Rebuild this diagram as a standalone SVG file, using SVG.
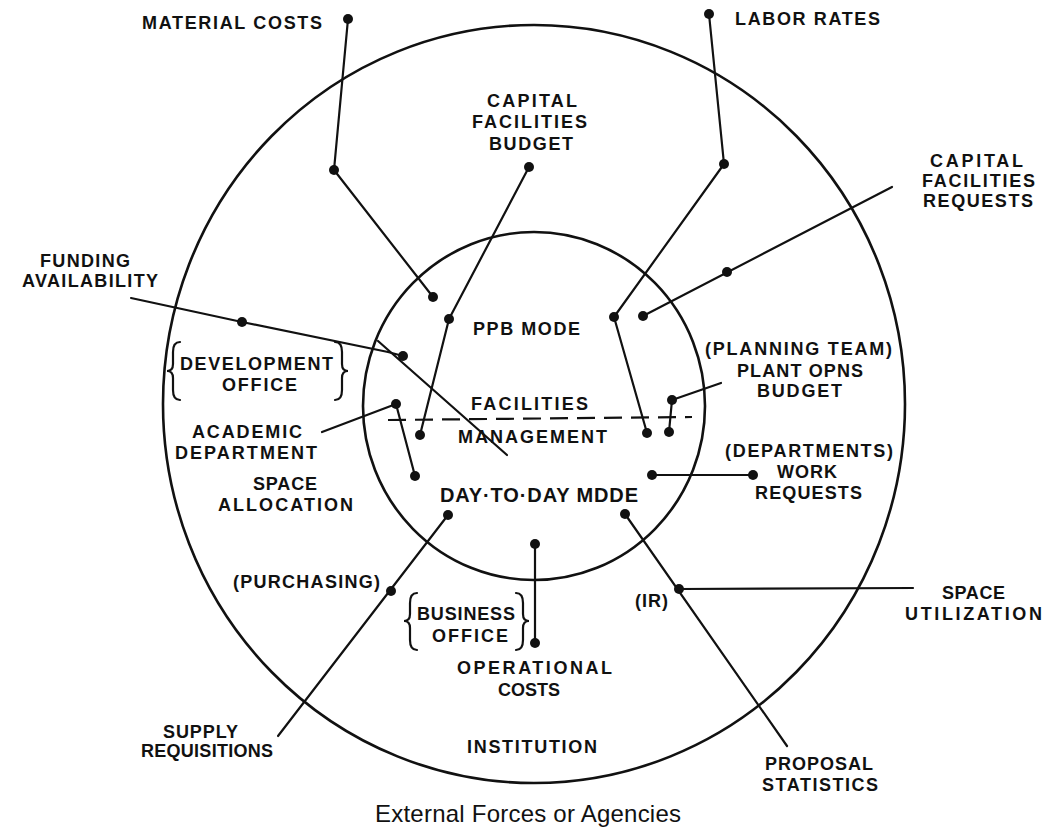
<svg xmlns="http://www.w3.org/2000/svg" width="1045" height="828" viewBox="0 0 1045 828">
<style>
.ring{fill:none;stroke:#111;stroke-width:2.6}
.ln{fill:none;stroke:#111;stroke-width:2.2;stroke-linejoin:round;stroke-linecap:round}
.dash{fill:none;stroke:#111;stroke-width:2.2;stroke-dasharray:18 9}
.br{fill:none;stroke:#111;stroke-width:2.2;stroke-linecap:round}
.dot{fill:#111}
.t{font-family:"Liberation Sans",Arial,Helvetica,sans-serif;font-weight:bold;font-size:18px;fill:#111}
.big{font-size:20px}
.ext{font-family:"Liberation Sans",Arial,Helvetica,sans-serif;font-weight:normal;font-size:24px;fill:#111}
</style>
<rect width="1045" height="828" fill="#fff"/>
<g id="rings">
<ellipse id="institution-ring" class="ring" cx="534" cy="404" rx="371" ry="379"/>
<ellipse id="facilities-ring" class="ring" cx="534" cy="406" rx="171" ry="174"/>
<line class="dash" x1="388" y1="420" x2="692" y2="417"/>
</g>
<g id="connectors">
<polyline class="ln" points="348,19 334,170 433,297"/>
<polyline class="ln" points="529,167 449,319 420,435"/>
<polyline class="ln" points="709,14 724,164 614,317 647,433"/>
<line class="ln" x1="892" y1="187" x2="643" y2="316"/>
<polyline class="ln" points="131,298 242,322 388,352 403,356"/>
<line class="ln" x1="378" y1="341" x2="507" y2="455"/>
<polyline class="ln" points="322,432 396,404 415,476"/>
<polyline class="ln" points="721,383 672,400 669,432"/>
<line class="ln" x1="652" y1="475" x2="753" y2="475"/>
<line class="ln" x1="448" y1="515" x2="278" y2="736"/>
<line class="ln" x1="625" y1="514" x2="787" y2="746"/>
<line class="ln" x1="679" y1="589" x2="913" y2="588"/>
<line class="ln" x1="535" y1="544" x2="535" y2="643"/>
</g>
<g id="dots">
<circle class="dot" cx="348" cy="19" r="5"/>
<circle class="dot" cx="334" cy="170" r="5"/>
<circle class="dot" cx="433" cy="297" r="5"/>
<circle class="dot" cx="529" cy="167" r="5"/>
<circle class="dot" cx="449" cy="319" r="5"/>
<circle class="dot" cx="420" cy="435" r="5"/>
<circle class="dot" cx="709" cy="14" r="5"/>
<circle class="dot" cx="724" cy="164" r="5"/>
<circle class="dot" cx="614" cy="317" r="5"/>
<circle class="dot" cx="647" cy="433" r="5"/>
<circle class="dot" cx="727" cy="272" r="5"/>
<circle class="dot" cx="643" cy="316" r="5"/>
<circle class="dot" cx="242" cy="322" r="5"/>
<circle class="dot" cx="403" cy="356" r="5"/>
<circle class="dot" cx="396" cy="404" r="5"/>
<circle class="dot" cx="415" cy="476" r="5"/>
<circle class="dot" cx="672" cy="400" r="5"/>
<circle class="dot" cx="669" cy="432" r="5"/>
<circle class="dot" cx="652" cy="475" r="5"/>
<circle class="dot" cx="753" cy="475" r="5"/>
<circle class="dot" cx="448" cy="515" r="5"/>
<circle class="dot" cx="391" cy="591" r="5"/>
<circle class="dot" cx="625" cy="514" r="5"/>
<circle class="dot" cx="679" cy="589" r="5"/>
<circle class="dot" cx="535" cy="544" r="5"/>
<circle class="dot" cx="535" cy="643" r="5"/>
</g>
<g id="material-costs"><text class="t" x="142" y="29" textLength="180" lengthAdjust="spacing">MATERIAL COSTS</text></g>
<g id="labor-rates"><text class="t" x="735" y="25" textLength="145" lengthAdjust="spacing">LABOR RATES</text></g>
<g id="capital-facilities-budget">
<text class="t" x="487" y="107" textLength="90" lengthAdjust="spacing">CAPITAL</text>
<text class="t" x="472" y="128" textLength="115" lengthAdjust="spacing">FACILITIES</text>
<text class="t" x="489" y="150" textLength="84" lengthAdjust="spacing">BUDGET</text>
</g>
<g id="capital-facilities-requests">
<text class="t" x="930" y="167" textLength="93" lengthAdjust="spacing">CAPITAL</text>
<text class="t" x="922" y="187" textLength="113" lengthAdjust="spacing">FACILITIES</text>
<text class="t" x="923" y="207" textLength="110" lengthAdjust="spacing">REQUESTS</text>
</g>
<g id="funding-availability">
<text class="t" x="40" y="267" textLength="90" lengthAdjust="spacing">FUNDING</text>
<text class="t" x="22" y="287" textLength="136" lengthAdjust="spacing">AVAILABILITY</text>
</g>
<g id="ppb-mode"><text class="t" x="473" y="335" textLength="107" lengthAdjust="spacing">PPB MODE</text></g>
<g id="development-office">
<path class="br" d="M180,342 Q173,342 173,352 L173,364 Q173,371 167,371 Q173,371 173,378 L173,390 Q173,400 180,400"/>
<text class="t" x="180" y="370" textLength="153" lengthAdjust="spacing">DEVELOPMENT</text>
<text class="t" x="222" y="391" textLength="75" lengthAdjust="spacing">OFFICE</text>
<path class="br" d="M335,342 Q342,342 342,352 L342,364 Q342,371 348,371 Q342,371 342,378 L342,390 Q342,400 335,400"/>
</g>
<g id="plant-opns-budget">
<text class="t" x="705" y="355" textLength="187" lengthAdjust="spacing">(PLANNING TEAM)</text>
<text class="t" x="737" y="377" textLength="126" lengthAdjust="spacing">PLANT OPNS</text>
<text class="t" x="757" y="397" textLength="85" lengthAdjust="spacing">BUDGET</text>
</g>
<g id="facilities-management">
<text class="t" x="471" y="410" textLength="117" lengthAdjust="spacing">FACILITIES</text>
<text class="t" x="458" y="443" textLength="149" lengthAdjust="spacing">MANAGEMENT</text>
</g>
<g id="academic-department">
<text class="t" x="192" y="438" textLength="110" lengthAdjust="spacing">ACADEMIC</text>
<text class="t" x="175" y="459" textLength="142" lengthAdjust="spacing">DEPARTMENT</text>
</g>
<g id="space-allocation">
<text class="t" x="253" y="490" textLength="64" lengthAdjust="spacing">SPACE</text>
<text class="t" x="218" y="511" textLength="135" lengthAdjust="spacing">ALLOCATION</text>
</g>
<g id="day-to-day-mode"><text class="t big" x="440" y="502" textLength="198" lengthAdjust="spacing">DAY·TO·DAY MDDE</text></g>
<g id="work-requests">
<text class="t" x="725" y="457" textLength="168" lengthAdjust="spacing">(DEPARTMENTS)</text>
<text class="t" x="777" y="478" textLength="60" lengthAdjust="spacing">WORK</text>
<text class="t" x="755" y="499" textLength="107" lengthAdjust="spacing">REQUESTS</text>
</g>
<g id="purchasing"><text class="t" x="233" y="588" textLength="147" lengthAdjust="spacing">(PURCHASING)</text></g>
<g id="ir"><text class="t" x="635" y="607" textLength="33" lengthAdjust="spacing">(IR)</text></g>
<g id="space-utilization">
<text class="t" x="942" y="599" textLength="63" lengthAdjust="spacing">SPACE</text>
<text class="t" x="905" y="620" textLength="137" lengthAdjust="spacing">UTILIZATION</text>
</g>
<g id="business-office">
<path class="br" d="M417,593 Q410,593 410,603 L410,614 Q410,621 404,621 Q410,621 410,628 L410,640 Q410,650 417,650"/>
<text class="t" x="417" y="620" textLength="98" lengthAdjust="spacing">BUSINESS</text>
<text class="t" x="432" y="642" textLength="76" lengthAdjust="spacing">OFFICE</text>
<path class="br" d="M516,593 Q523,593 523,603 L523,614 Q523,621 529,621 Q523,621 523,628 L523,640 Q523,650 516,650"/>
</g>
<g id="operational-costs">
<text class="t" x="457" y="674" textLength="155" lengthAdjust="spacing">OPERATIONAL</text>
<text class="t" x="498" y="696" textLength="62" lengthAdjust="spacing">COSTS</text>
</g>
<g id="institution"><text class="t" x="467" y="753" textLength="130" lengthAdjust="spacing">INSTITUTION</text></g>
<g id="supply-requisitions">
<text class="t" x="163" y="738" textLength="75" lengthAdjust="spacing">SUPPLY</text>
<text class="t" x="141" y="757" textLength="132" lengthAdjust="spacing">REQUISITIONS</text>
</g>
<g id="proposal-statistics">
<text class="t" x="765" y="770" textLength="108" lengthAdjust="spacing">PROPOSAL</text>
<text class="t" x="762" y="791" textLength="116" lengthAdjust="spacing">STATISTICS</text>
</g>
<g id="external-forces"><text class="ext" x="375" y="822" textLength="306" lengthAdjust="spacing">External Forces or Agencies</text></g>
</svg>
